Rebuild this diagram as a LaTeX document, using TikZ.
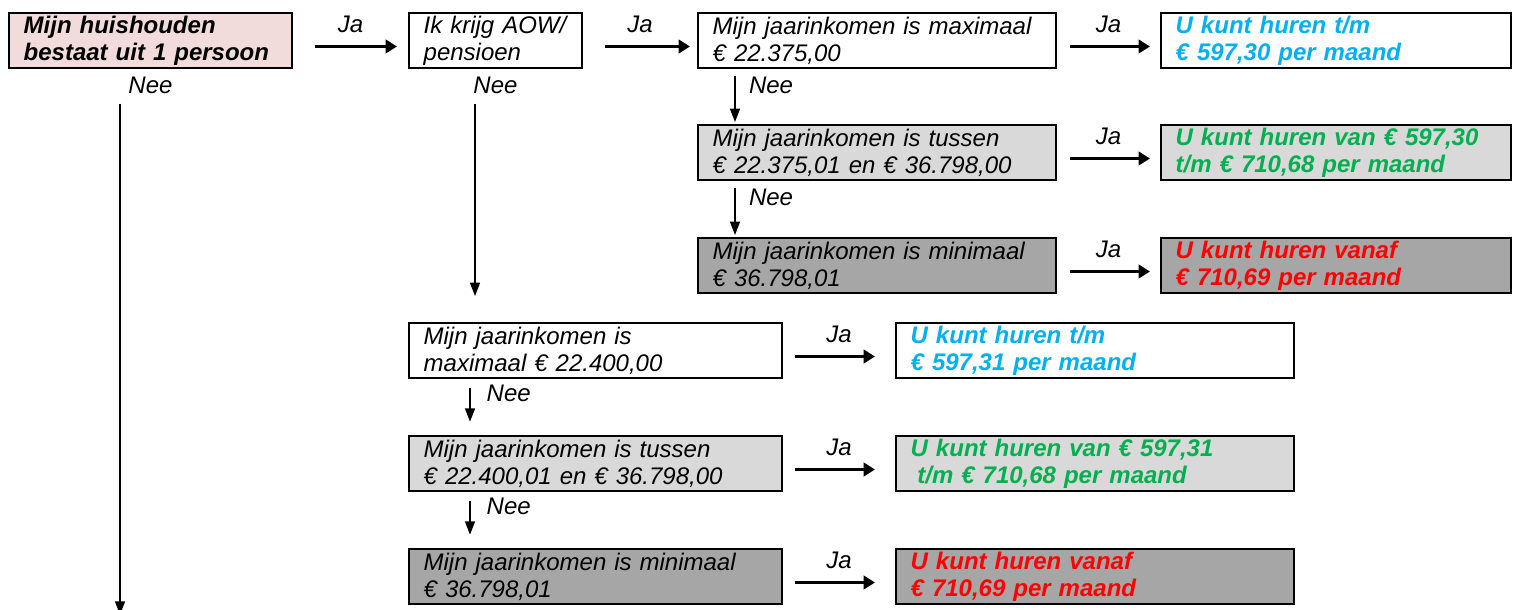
\documentclass[tikz,border=0pt]{standalone}
\usepackage{fontspec}
\setmainfont{Liberation Sans}
\usepackage{xcolor}
\usepackage{tikz}
\usetikzlibrary{positioning,arrows.meta,calc}
\definecolor{rosebox}{HTML}{F2DCDB}
\definecolor{lightbox}{HTML}{D9D9D9}
\definecolor{darkbox}{HTML}{A6A6A6}
\definecolor{rentblue}{HTML}{00B0F0}
\definecolor{rentgreen}{HTML}{00B050}
\definecolor{rentred}{HTML}{FF0000}
\tikzset{
  basic/.style  = {draw, line width=1.5pt, rectangle, align=left,
                   font=\fontsize{18pt}{20.25pt}\selectfont\itshape,
                   inner xsep=11pt, inner ysep=0pt, minimum height=41.25pt},
  root/.style   = {basic, fill=rosebox, font=\fontsize{18pt}{20.25pt}\selectfont\bfseries\itshape},
  band 1/.style = {basic, fill=white},
  band 2/.style = {basic, fill=lightbox},
  band 3/.style = {basic, fill=darkbox},
  rent 1/.style = {text=rentblue, font=\fontsize{18pt}{20.25pt}\selectfont\bfseries\itshape},
  rent 2/.style = {text=rentgreen, font=\fontsize{18pt}{20.25pt}\selectfont\bfseries\itshape},
  rent 3/.style = {text=rentred, font=\fontsize{18pt}{20.25pt}\selectfont\bfseries\itshape},
  answer/.style = {inner sep=0pt, font=\fontsize{18pt}{20.25pt}\selectfont\itshape},
  ja arrow/.style  = {line width=2.25pt, -{Triangle[length=8.5pt,width=10pt]}},
  nee arrow/.style = {line width=1.1pt, -{Triangle[length=10pt,width=7.5pt]}}
}

\begin{document}
\begin{tikzpicture}
        \useasboundingbox (0,0) rectangle (1135.5pt,-457.5pt);
        % first row
        \node[root, anchor=north west, text width=190.25pt] (b1) at (6pt,-9pt)
          {Mijn huishouden\\bestaat uit 1 persoon};
        \node[band 1, right=86.25pt of b1, text width=107.75pt] (b2) {Ik krijg AOW/\\pensioen};
        \node[band 1, right=85.5pt of b2, text width=246.5pt] (b3)
          {Mijn jaarinkomen is maximaal\\€ 22.375,00};
        \node[band 1, rent 1, right=77.25pt of b3, text width=240.5pt] (b4)
          {U kunt huren t/m\\€ 597,30 per maand};
        % AOW column, relatively positioned nodes
        \node[band 2, below=41.25pt of b3, text width=246.5pt] (b5)
          {Mijn jaarinkomen is tussen\\€ 22.375,01 en € 36.798,00};
        \node[band 2, rent 2, below=41.25pt of b4, text width=240.5pt] (b6)
          {U kunt huren van € 597,30\\t/m € 710,68 per maand};
        \node[band 3, below=42pt of b5, text width=246.5pt] (b7)
          {Mijn jaarinkomen is minimaal\\€ 36.798,01};
        \node[band 3, rent 3, below=42pt of b6, text width=240.5pt] (b8)
          {U kunt huren vanaf\\€ 710,69 per maand};
        % no AOW column
        \node[band 1, below=189.75pt of b2.south west, anchor=north west, text width=257.75pt] (b9)
          {Mijn jaarinkomen is\\maximaal € 22.400,00};
        \node[band 1, rent 1, right=84pt of b9, text width=276.5pt] (b10)
          {U kunt huren t/m\\€ 597,31 per maand};
        \node[band 2, below=42pt of b9, text width=257.75pt] (b11)
          {Mijn jaarinkomen is tussen\\€ 22.400,01 en € 36.798,00};
        \node[band 2, rent 2, below=42pt of b10, text width=276.5pt] (b12)
          {U kunt huren van € 597,31\\\hspace*{5pt}t/m € 710,68 per maand};
        \node[band 3, below=42pt of b11, text width=257.75pt] (b13)
          {Mijn jaarinkomen is minimaal\\€ 36.798,01};
        \node[band 3, rent 3, below=42pt of b12, text width=276.5pt] (b14)
          {U kunt huren vanaf\\€ 710,69 per maand};
        % answers under the first two questions
        \node[answer, below=6pt of b1] (n1) {Nee};
        \node[answer, below=6pt of b2] (n2) {Nee};
        \coordinate (out1) at (90pt,-461pt);
        \coordinate (out2) at (356.25pt,-222pt);
        \coordinate (top1) at (out1 |- n1.south);
        \coordinate (top2) at (out2 |- n2.south);
        \draw[nee arrow] ([yshift=-7pt]top1) -- (out1);
        \draw[nee arrow] ([yshift=-7pt]top2) -- (out2);
        % Ja arrows to the right
        \draw[ja arrow, shorten <=16.5pt, shorten >=8.25pt] ([yshift=-4.5pt]b1.east) --
          node[answer, above=9pt] {Ja} ([yshift=-4.5pt]b2.west);
        \draw[ja arrow, shorten <=16.5pt, shorten >=5.25pt] ([yshift=-4.5pt]b2.east) --
          node[answer, above=9pt] {Ja} ([yshift=-4.5pt]b3.west);
        \foreach \from/\to in {b3/b4,b5/b6,b7/b8}
        \draw[ja arrow, shorten <=9.75pt, shorten >=7.5pt] ([yshift=-4.5pt]\from.east) --
          node[answer, above=9pt] {Ja} ([yshift=-4.5pt]\to.west);
        \foreach \from/\to in {b9/b10,b11/b12,b13/b14}
        \draw[ja arrow, shorten <=9pt, shorten >=15pt] ([yshift=-4.5pt]\from.east) --
          node[answer, above=9pt] {Ja} ([yshift=-4.5pt]\to.west);
        % Nee arrows down
        \foreach \from/\to in {b3/b5,b5/b7}
        \draw[nee arrow] ([xshift=28.5pt,yshift=-5pt]\from.south west) --
          node[answer, pos=0.2, right=10pt] {Nee} ([xshift=28.5pt,yshift=1.5pt]\to.north west);
        \foreach \from/\to in {b9/b11,b11/b13}
        \draw[nee arrow] ([xshift=46.5pt,yshift=-7pt]\from.south west) --
          node[answer, pos=0.15, right=12pt] {Nee} ([xshift=46.5pt,yshift=10pt]\to.north west);
      \end{tikzpicture}
\end{document}
